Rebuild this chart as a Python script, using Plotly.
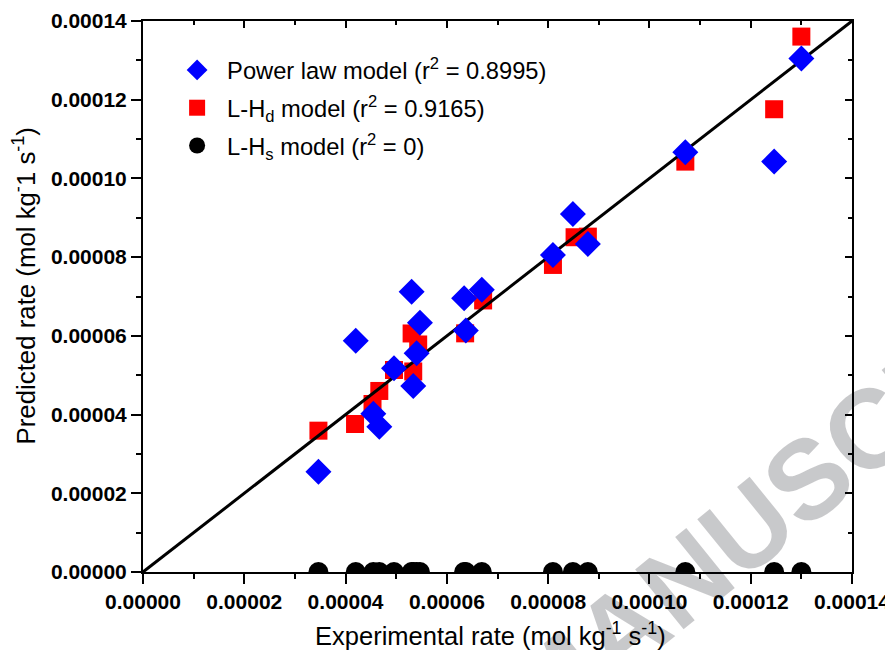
import plotly.graph_objects as go

# ---------------- data ----------------
power_x = [3.464e-5, 4.201e-5, 4.548e-5, 4.666e-5, 4.956e-5, 5.304e-5, 5.336e-5, 5.403e-5, 5.468e-5,
           6.341e-5, 6.374e-5, 6.690e-5, 8.095e-5, 8.489e-5, 8.784e-5, 1.0709e-4, 1.2463e-4, 1.3000e-4]
power_y = [2.549e-5, 5.878e-5, 4.023e-5, 3.693e-5, 5.177e-5, 7.123e-5, 4.727e-5, 5.558e-5, 6.335e-5,
           6.956e-5, 6.137e-5, 7.174e-5, 8.056e-5, 9.098e-5, 8.335e-5, 1.0666e-4, 1.0427e-4, 1.3045e-4]

lhd_x = [3.464e-5, 4.187e-5, 4.532e-5, 4.666e-5, 4.956e-5, 5.304e-5, 5.336e-5, 5.434e-5,
         6.361e-5, 6.716e-5, 8.095e-5, 8.522e-5, 8.784e-5, 1.0709e-4, 1.2463e-4, 1.3000e-4]
lhd_y = [3.591e-5, 3.761e-5, 4.269e-5, 4.600e-5, 5.133e-5, 6.061e-5, 5.095e-5, 5.781e-5,
         6.064e-5, 6.900e-5, 7.802e-5, 8.506e-5, 8.521e-5, 1.0427e-4, 1.1758e-4, 1.3604e-4]

lhs_x = power_x
lhs_y = [0.0] * len(power_x)

axis_range = [0.0, 0.00014]
tick_vals = [0.0, 0.00002, 0.00004, 0.00006, 0.00008, 0.00010, 0.00012, 0.00014]
tick_text = ["0.00000", "0.00002", "0.00004", "0.00006", "0.00008", "0.00010", "0.00012", "0.00014"]

names = ["Power law model (r<sup>2</sup> = 0.8995)",
         "L-H<sub>d</sub> model (r<sup>2</sup> = 0.9165)",
         "L-H<sub>s</sub> model (r<sup>2</sup> = 0)"]

FONT = "Liberation Sans"

fig = go.Figure()

fig.add_trace(go.Scatter(x=lhs_x, y=lhs_y, mode="markers", name=names[2],
                         marker=dict(symbol="circle", size=20, color="black"),
                         legendgroup="c", legendrank=3))
fig.add_trace(go.Scatter(x=lhd_x, y=lhd_y, mode="markers", name=names[1],
                         marker=dict(symbol="square", size=18, color="#ff0000"),
                         legendgroup="b", legendrank=2))
fig.add_trace(go.Scatter(x=axis_range, y=axis_range, mode="lines", showlegend=False,
                         line=dict(color="black", width=3), hoverinfo="skip"))
fig.add_trace(go.Scatter(x=power_x, y=power_y, mode="markers", name=names[0],
                         marker=dict(symbol="diamond", size=20, color="#0000ff"),
                         legendgroup="a", legendrank=1))
# helper trace so the mirrored top/right axes (inward ticks) are drawn
fig.add_trace(go.Scatter(x=[], y=[], xaxis="x2", yaxis="y2", showlegend=False, hoverinfo="skip"))

common = dict(range=axis_range, showgrid=False, zeroline=False, showline=True,
              linecolor="black", linewidth=2, tickvals=tick_vals, ticktext=tick_text,
              tickcolor="black", tickwidth=2, fixedrange=True, automargin=False)

tickfont = dict(family=FONT, size=21, color="black", weight="bold")

# page body has an 8px margin, so the figure is drawn offset and margins shifted
fig.update_layout(
    width=893, height=642,
    paper_bgcolor="white", plot_bgcolor="white",
    margin=dict(l=134.5, r=48.7, t=13, b=78, autoexpand=False),
    font=dict(family=FONT, color="black"),
    xaxis=dict(**common, ticks="outside", ticklen=10, tickfont=tickfont,
               minor=dict(dtick=0.00001, tick0=0, ticks="outside", ticklen=5, tickcolor="black", tickwidth=2),
               title=dict(text="Experimental rate (mol kg<sup>-1</sup> s<sup>-1</sup>)&nbsp;&nbsp;",
                          font=dict(family=FONT, size=25.5, color="black"), standoff=16)),
    yaxis=dict(**common, ticks="outside", ticklen=10, tickfont=tickfont,
               minor=dict(dtick=0.00001, tick0=0, ticks="outside", ticklen=5, tickcolor="black", tickwidth=2),
               title=dict(text="&nbsp;&nbsp;&nbsp;Predicted rate (mol kg<sup>-</sup>1 s<sup>-1</sup>)",
                          font=dict(family=FONT, size=25.8, color="black"), standoff=8)),
    xaxis2=dict(**common, overlaying="x", side="top", anchor="y2", ticks="inside", ticklen=7,
                showticklabels=False,
                minor=dict(dtick=0.00001, tick0=0, ticks="inside", ticklen=4, tickcolor="black", tickwidth=2)),
    yaxis2=dict(**common, overlaying="y", side="right", anchor="x2", ticks="inside", ticklen=7,
                showticklabels=False,
                minor=dict(dtick=0.00001, tick0=0, ticks="inside", ticklen=4, tickcolor="black", tickwidth=2)),
    legend=dict(x=0.034, y=0.951, xanchor="left", yanchor="top",
                bgcolor="rgba(0,0,0,0)", borderwidth=0,
                font=dict(family=FONT, size=23.7, color="black"),
                itemwidth=50, tracegroupgap=4, traceorder="grouped"),
    showlegend=True,
)

# translucent dark watermark: light grey on white, black text/marks underneath stay black
fig.add_annotation(text="<b>MANUSCRIPT</b>", xref="paper", yref="paper", x=0.939, y=0.169,
                   xanchor="center", yanchor="middle", showarrow=False, textangle=-39,
                   font=dict(family=FONT, size=112, color="rgba(0,4,12,0.215)"))

fig.write_html("out.html")
